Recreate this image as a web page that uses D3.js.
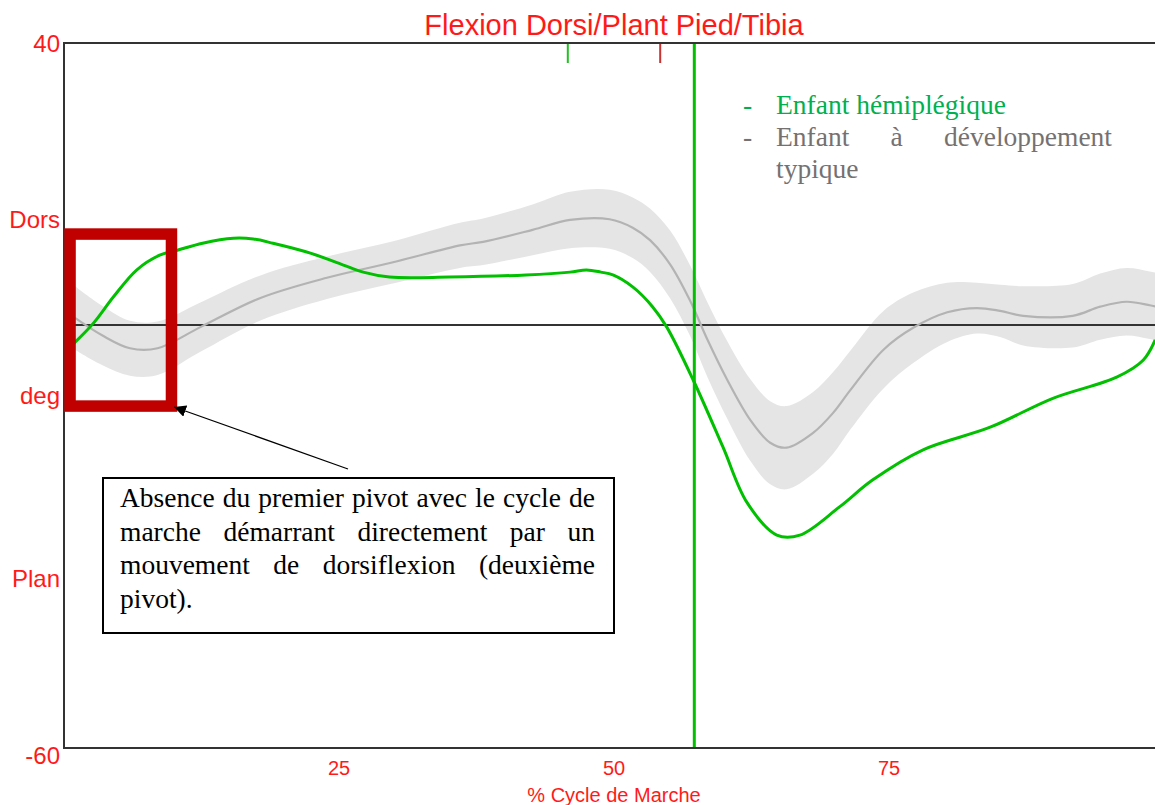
<!DOCTYPE html>
<html>
<head>
<meta charset="utf-8">
<script src="https://cdn.jsdelivr.net/npm/d3@7"></script>
<style>
  body { margin: 0; background: #fff; }
  svg { display: block; }
  .sans { font-family: "Liberation Sans", Arial, sans-serif; }
  .serif { font-family: "Liberation Serif", "Times New Roman", serif; }
</style>
</head>
<body>
<svg id="chart" width="1155" height="805"></svg>
<script>
// patient (hemiplegic child) curve, % gait cycle -> degrees
const patientPct = [0.9, 2.7, 4.5, 6.6, 8.7, 10.3, 12.6, 15.4, 17.2, 19.0, 22.4, 25.4, 27.2, 29.6, 35, 42, 46, 47.5, 48.8, 49.9, 51.7, 53.5, 54.8, 57.2, 59.9, 62.1, 64.8, 66.9, 70.5, 73.5, 78.1, 84.2, 89.9, 95.7, 98.1, 99.2];
const patientDeg = [-2.6, 0.3, 4.0, 7.8, 9.9, 10.6, 11.6, 12.3, 12.2, 11.6, 10.2, 8.5, 7.5, 6.8, 6.8, 7.1, 7.5, 7.8, 7.5, 7.1, 5.4, 2.6, -0.3, -7.8, -17.3, -25.2, -29.8, -29.8, -25.8, -22.0, -17.7, -14.5, -10.4, -7.4, -5.0, -2.1];

// typically developing child: mean and spread
const normPct = [1.0, 3.5, 6, 8.5, 12.4, 17.8, 23.9, 30.2, 36, 38.1, 42.6, 46, 49.6, 51.7, 53.3, 55.1, 56.9, 58.5, 60.3, 62.4, 64.2, 65.7, 68.1, 69.9, 71.5, 74.5, 77.2, 80.3, 83, 85.1, 87.2, 91.7, 94.2, 96.6, 98.7, 100];
const normMean = [1.0, -1.5, -3.3, -3.3, -0.3, 3.8, 6.7, 9.0, 11.3, 11.8, 13.5, 14.9, 15.0, 13.8, 12.0, 8.6, 3.5, -2.1, -7.8, -13.5, -16.7, -17.4, -15.3, -12.5, -9.2, -3.5, -0.4, 1.8, 2.4, 2.0, 1.3, 1.3, 2.6, 3.3, 2.8, 2.3];
const normSd = [4.5, 4.2, 3.9, 3.8, 3.5, 3.2, 3.0, 3.0, 3.2, 3.3, 3.6, 4.0, 4.2, 4.3, 4.5, 4.8, 5.0, 5.3, 5.5, 5.8, 5.9, 5.9, 5.8, 5.8, 5.6, 5.5, 5.0, 4.2, 3.6, 3.7, 4.2, 4.5, 4.7, 4.8, 4.8, 4.8];

// gait events
const toeOffPatient = 57.3;
const topMarks = [{ pct: 45.8, color: '#22c022' }, { pct: 54.2, color: '#c83232' }];

const xTicks = [25, 50, 75];
const yLabels = [{ v: 40, t: '40' }, { v: 15, t: 'Dors' }, { v: -10, t: 'deg' }, { v: -36, t: 'Plan' }, { v: -61, t: '-60' }];

const title = 'Flexion Dorsi/Plant Pied/Tibia';
const xTitle = '% Cycle de Marche';
const legendPatient = 'Enfant hémiplégique';
const legendNorm = ['Enfant à développement', 'typique'];
const noteLines = [
  'Absence du premier pivot avec le cycle de',
  'marche démarrant directement par un',
  'mouvement de dorsiflexion (deuxième',
  'pivot).'
];

const svg = d3.select('#chart');
const x = d3.scaleLinear().domain([0, 100]).range([64, 1164]);
const y = d3.scaleLinear().domain([-60, 40]).range([748, 43]);
const curve = d3.curveCatmullRom.alpha(0.5);

const norm = normPct.map((p, i) => ({ p, m: normMean[i], s: normSd[i] }));
const patient = patientPct.map((p, i) => ({ p, v: patientDeg[i] }));

// band
svg.append('path')
    .datum(norm)
    .attr('fill', '#e5e5e5')
    .attr('d', d3.area()
        .curve(curve)
        .x(d => x(d.p))
        .y0(d => y(d.m - d.s))
        .y1(d => y(d.m + d.s)));

// zero line
svg.append('line')
    .attr('x1', x(0)).attr('x2', 1155)
    .attr('y1', y(0)).attr('y2', y(0))
    .attr('stroke', '#333').attr('stroke-width', 2);

// mean
svg.append('path')
    .datum(norm)
    .attr('fill', 'none')
    .attr('stroke', '#b3b3b3')
    .attr('stroke-width', 2.2)
    .attr('d', d3.line().curve(curve).x(d => x(d.p)).y(d => y(d.m)));

// patient
svg.append('path')
    .datum(patient)
    .attr('fill', 'none')
    .attr('stroke', '#00c000')
    .attr('stroke-width', 3)
    .attr('d', d3.line().curve(curve).x(d => x(d.p)).y(d => y(d.v)));

// toe-off vertical
svg.append('line')
    .attr('x1', x(toeOffPatient)).attr('x2', x(toeOffPatient))
    .attr('y1', y(40)).attr('y2', y(-60))
    .attr('stroke', '#00c000').attr('stroke-width', 3);

svg.selectAll('.mark')
  .data(topMarks)
  .join('line')
    .attr('x1', d => x(d.pct)).attr('x2', d => x(d.pct))
    .attr('y1', y(40)).attr('y2', y(40) + 20)
    .attr('stroke', d => d.color).attr('stroke-width', 2);

// frame
svg.append('path')
    .attr('d', `M1155,${y(40)}H${x(0)}V${y(-60)}H1155`)
    .attr('fill', 'none')
    .attr('stroke', '#333')
    .attr('stroke-width', 2);

// labels
svg.append('text')
    .attr('class', 'sans')
    .attr('x', x(50)).attr('y', 35)
    .attr('text-anchor', 'middle')
    .attr('fill', '#ff1a1a')
    .style('font-size', '29px')
    .text(title);

svg.selectAll('.ylab')
  .data(yLabels)
  .join('text')
    .attr('class', 'sans')
    .attr('x', 60).attr('y', d => y(d.v))
    .attr('dy', '0.36em')
    .attr('text-anchor', 'end')
    .attr('fill', '#ff1a1a')
    .style('font-size', '24px')
    .text(d => d.t);

svg.selectAll('.xlab')
  .data(xTicks)
  .join('text')
    .attr('class', 'sans')
    .attr('x', d => x(d)).attr('y', 775)
    .attr('text-anchor', 'middle')
    .attr('fill', '#ff1a1a')
    .style('font-size', '20px')
    .text(d => d);

svg.append('text')
    .attr('class', 'sans')
    .attr('x', x(50)).attr('y', 802)
    .attr('text-anchor', 'middle')
    .attr('fill', '#ff1a1a')
    .style('font-size', '20px')
    .text(xTitle);

// justified serif text, word by word
function writeLine(g, str, x0, x1, yb, justify, color, size) {
  const words = str.split(' ');
  const nodes = words.map(w => g.append('text')
      .attr('class', 'serif')
      .attr('y', yb)
      .attr('fill', color)
      .style('font-size', size + 'px')
      .text(w));
  const widths = nodes.map(n => n.node().getComputedTextLength());
  const total = d3.sum(widths);
  const gap = (justify && words.length > 1) ? (x1 - x0 - total) / (words.length - 1) : size * 0.25;
  let cx = x0;
  nodes.forEach((n, i) => {
    n.attr('x', cx);
    cx += widths[i] + gap;
  });
}

const legend = svg.append('g');
legend.append('text').attr('class', 'serif').attr('x', 743).attr('y', 114)
    .attr('fill', '#00b050').style('font-size', '27.5px').text('-');
writeLine(legend, legendPatient, 776, 1112, 114, false, '#00b050', 27.5);
legend.append('text').attr('class', 'serif').attr('x', 743).attr('y', 146)
    .attr('fill', '#767171').style('font-size', '27.5px').text('-');
writeLine(legend, legendNorm[0], 776, 1112, 146, true, '#767171', 27.5);
writeLine(legend, legendNorm[1], 776, 1112, 178, false, '#767171', 27.5);

// annotation: red box on the first pivot
svg.append('rect')
    .attr('x', x(0.55)).attr('y', y(12.9))
    .attr('width', x(9.77) - x(0.55))
    .attr('height', y(-11.5) - y(12.9))
    .attr('fill', 'none')
    .attr('stroke', '#c00000')
    .attr('stroke-width', 11.5);

svg.append('defs').append('marker')
    .attr('id', 'arrow')
    .attr('viewBox', '0 0 10 10')
    .attr('refX', 10).attr('refY', 5)
    .attr('markerWidth', 12).attr('markerHeight', 12)
    .attr('markerUnits', 'userSpaceOnUse')
    .attr('orient', 'auto')
  .append('path')
    .attr('d', 'M0,0L10,5L0,10Z')
    .attr('fill', '#000');

svg.append('line')
    .attr('x1', 348).attr('y1', 469)
    .attr('x2', 174).attr('y2', 407)
    .attr('stroke', '#000')
    .attr('stroke-width', 1.2)
    .attr('marker-end', 'url(#arrow)');

const note = svg.append('g');
note.append('rect')
    .attr('x', 103).attr('y', 478)
    .attr('width', 511).attr('height', 155)
    .attr('fill', '#fff')
    .attr('stroke', '#000')
    .attr('stroke-width', 2);
noteLines.forEach((l, i) => {
  writeLine(note, l, 120, 595, 507 + i * 33.7, i < noteLines.length - 1, '#000', 27.5);
});
</script>
</body>
</html>
